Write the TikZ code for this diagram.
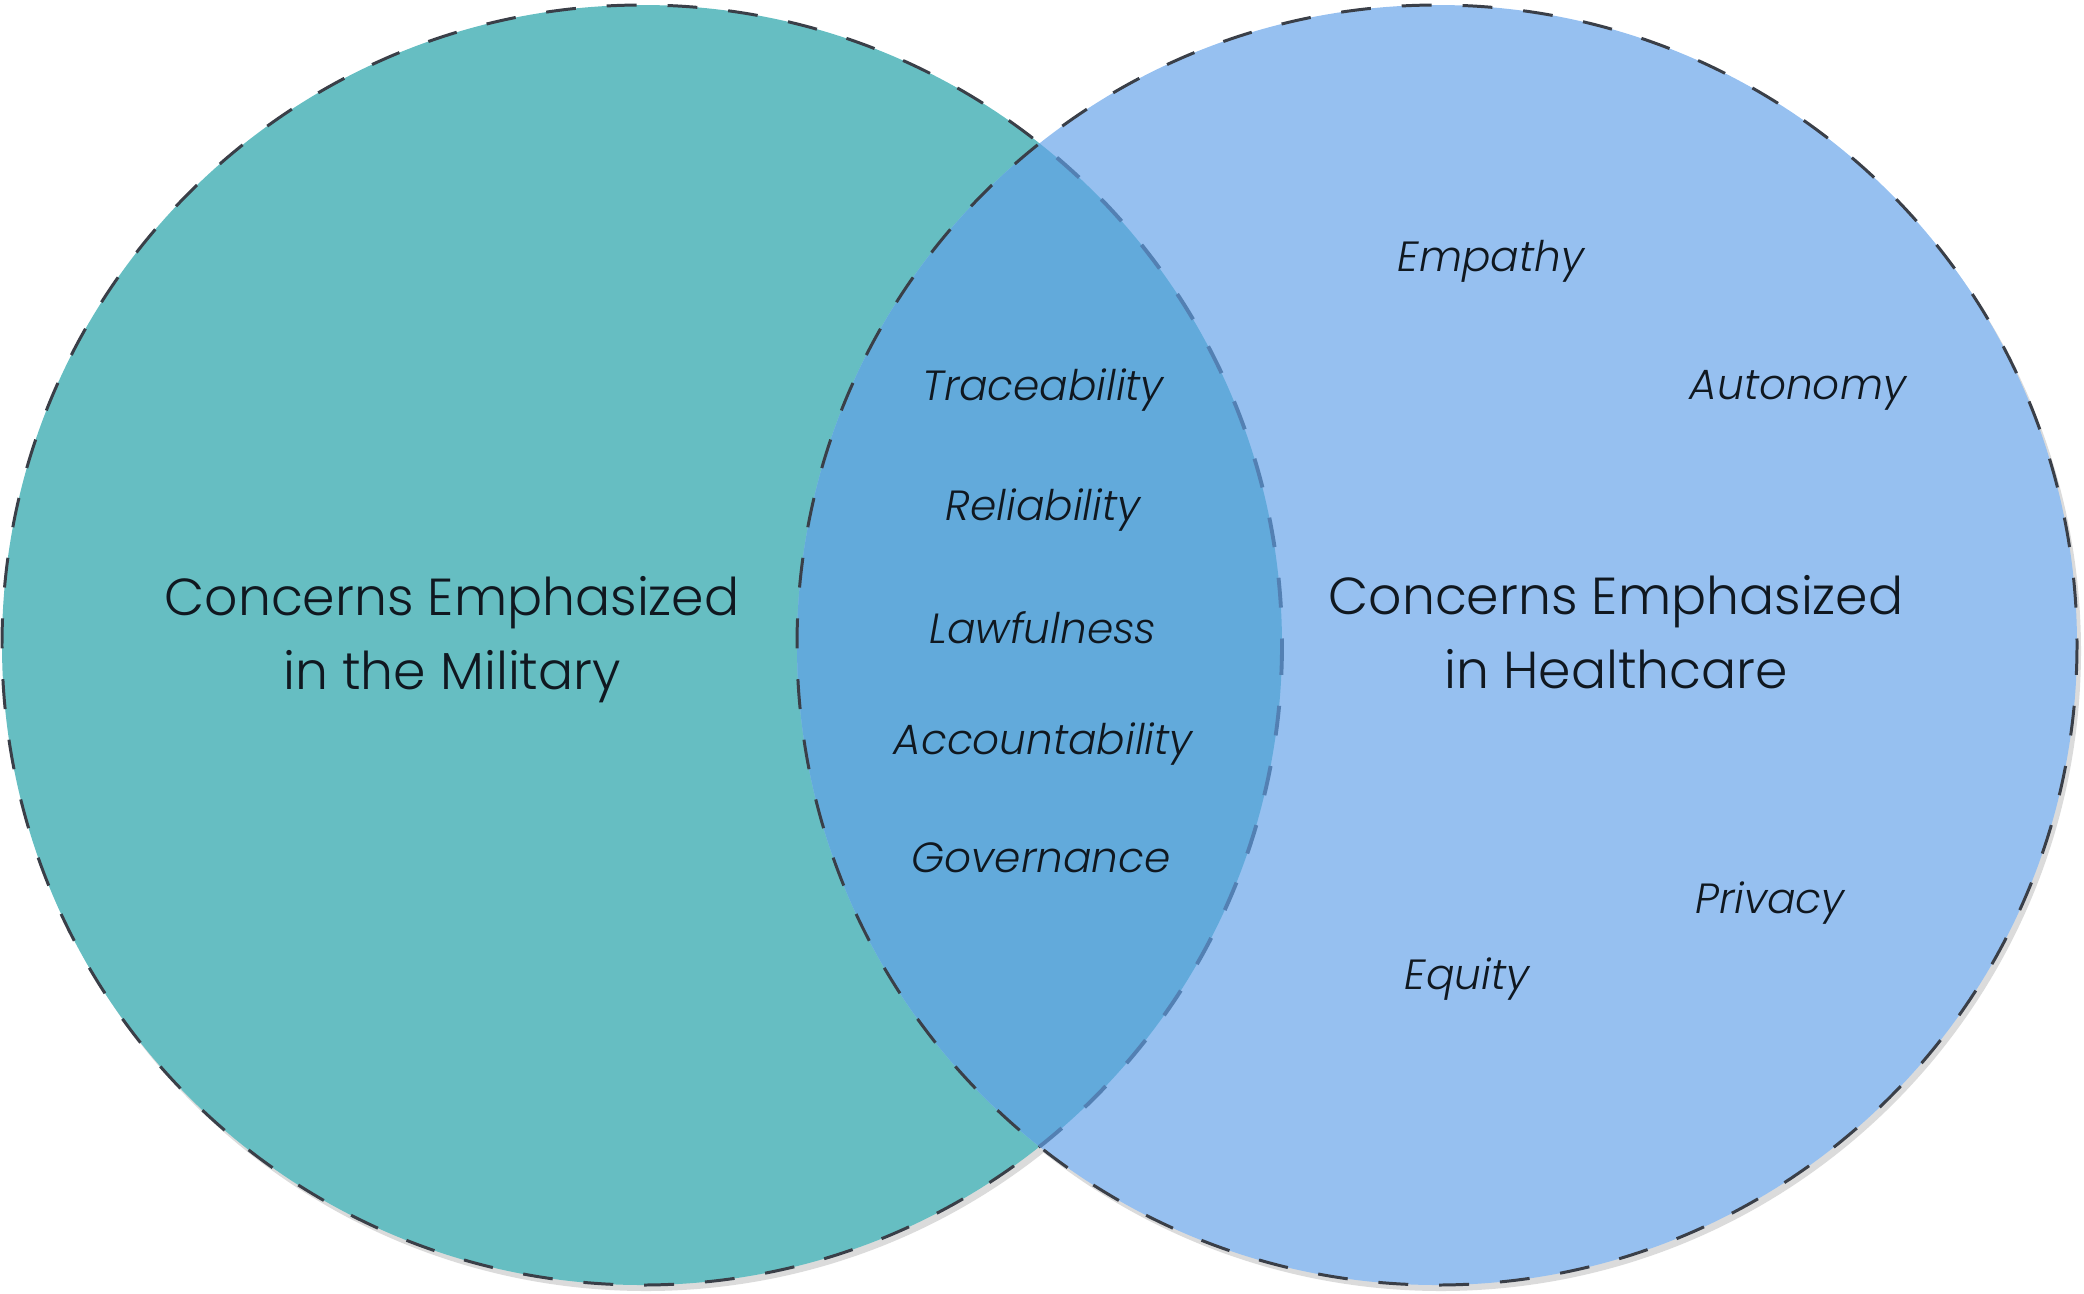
\documentclass[tikz,border=0pt]{standalone}
\usepackage{fontspec}
\setmainfont{Poppins}[UprightFont=* Light, ItalicFont=* Light Italic]
\definecolor{teal1}{HTML}{66BEC2}
\definecolor{blue1}{HTML}{96C0F0}
\definecolor{overlap}{HTML}{62AADB}
\definecolor{edge}{HTML}{3A3F48}
\definecolor{faintedge}{HTML}{5380B3}
\definecolor{ink}{HTML}{101820}
\begin{document}
\begin{tikzpicture}[x=0.01cm,y=-0.01cm,
  circ/.style={line width=0.85pt, dash pattern=on 8.5pt off 8.8pt},
  shadowc/.style={fill=black!14, draw=none},
  title/.style={font=\fontsize{14.8}{21}\selectfont, text=ink, align=center},
  item/.style={font=\fontsize{12}{15}\selectfont\itshape, text=ink}]
\useasboundingbox (0,0) rectangle (2084,1293);
% circle centres
\coordinate (cl) at (642,645);
\coordinate (cr) at (1437,645);
% shadows
\fill[shadowc] ([shift={(4,6)}]cl) circle (640);
\fill[shadowc] ([shift={(4,6)}]cr) circle (640);
% left circle
\fill[teal1] (cl) circle (640);
\draw[circ, draw=edge] (cl) circle (640);
% right circle
\fill[blue1] (cr) circle (640);
\begin{scope}
  \clip (cl) circle (640);
  \fill[overlap] (cr) circle (640);
\end{scope}
\begin{scope}
  \clip (cr) circle (640);
  \draw[circ, draw=faintedge, line width=1.1pt] (cl) circle (640);
\end{scope}
\draw[circ, draw=edge] (cr) circle (640);
% labels
\node[title] (mil) at (452,640) {Concerns Emphasized\\in the Military};
\node[title] (hc) at (1616,632) {Concerns Emphasized\\in Healthcare};
\node[item] (tr) at (1043,390) {Traceability};
\node[item] (re) at (1043,510) {Reliability};
\node[item] (la) at (1043,628) {Lawfulness};
\node[item] (ac) at (1043,744) {Accountability};
\node[item] (go) at (1041,858) {Governance};
\node[item] (em) at (1491,261) {Empathy};
\node[item] (au) at (1798,390) {Autonomy};
\node[item] (pr) at (1770,903) {Privacy};
\node[item] (eq) at (1467,979) {Equity};
\end{tikzpicture}
\end{document}
